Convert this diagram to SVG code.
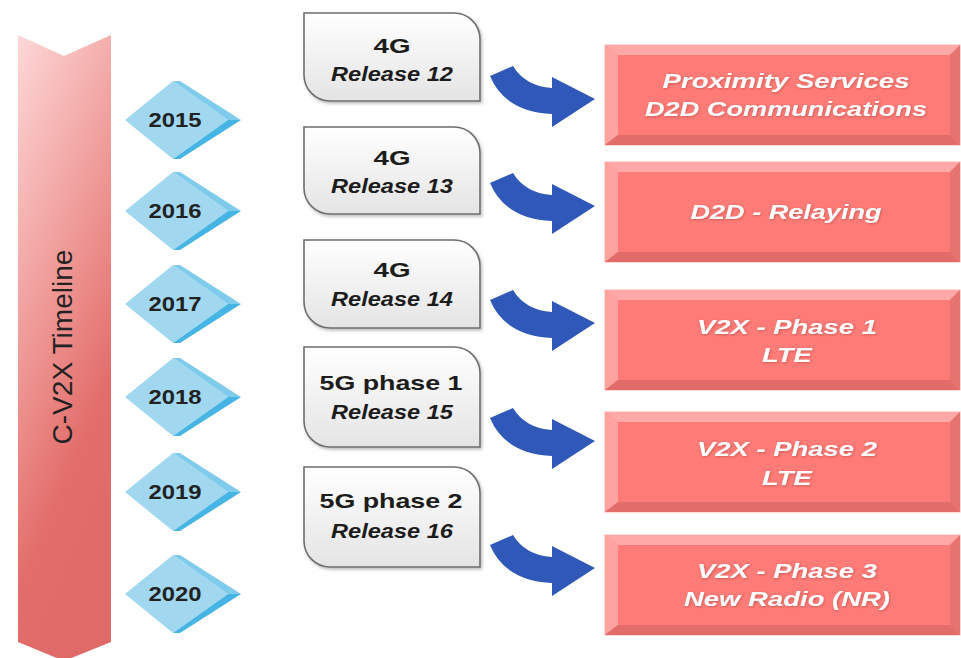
<svg xmlns="http://www.w3.org/2000/svg" width="961" height="658" viewBox="0 0 961 658">
  <defs>
    <linearGradient id="bannerFill" x1="0" y1="0" x2="0.35" y2="1">
      <stop offset="0" stop-color="#fdd8d8"/>
      <stop offset="0.55" stop-color="#ec8f8c"/>
      <stop offset="0.8" stop-color="#e26d6a"/>
      <stop offset="1" stop-color="#e06a67"/>
    </linearGradient>
    <linearGradient id="boxFill" x1="0" y1="0" x2="0" y2="1">
      <stop offset="0" stop-color="#ffffff"/>
      <stop offset="1" stop-color="#e4e4e4"/>
    </linearGradient>
    <filter id="softShadow" x="-10%" y="-10%" width="125%" height="130%">
      <feDropShadow dx="1.5" dy="2" stdDeviation="1.5" flood-color="#000" flood-opacity="0.25"/>
    </filter>
    <filter id="textShadow" x="-5%" y="-20%" width="110%" height="150%">
      <feDropShadow dx="0.8" dy="0.8" stdDeviation="0.8" flood-color="#8a2a28" flood-opacity="0.45"/>
    </filter>
    <!-- beveled release panel, 355 x 100 -->
    <g id="bevelPanel">
      <rect x="0" y="0" width="355" height="100" fill="#ff7b77" stroke="#ffb3b1" stroke-width="1"/>
      <polygon points="0,0 355,0 345,10 13,10" fill="#ffaaa8"/>
      <polygon points="0,0 13,10 13,90 0,100" fill="#ffa3a1"/>
      <polygon points="0,100 13,90 345,90 355,100" fill="#e16c6a"/>
      <polygon points="355,0 355,100 345,90 345,10" fill="#e57370"/>
    </g>
    <!-- year gem: front face plus two side facets, centred on y=0 -->
    <g id="gem">
      <polygon points="125,0 173,-39 228,0 173,39" fill="#a1d8ef"/>
      <polygon points="173,-39 180,-39 241,0 228,0" fill="#7fcbec"/>
      <polygon points="228,0 241,0 180,39 173,39" fill="#47b5e3"/>
    </g>
    <!-- curved blue arrow, tip at (0,0) -->
    <path id="bendArrow" d="M-105,-23 L-82,-33 Q-70,-13 -43,-11 L-43,-22 L0,0 L-43,28 L-43,15 Q-90,13 -105,-23 Z" fill="#2f58b8"/>
  </defs>

  <style>
    .year { font-family: "Liberation Sans", Arial, sans-serif; font-weight: bold; font-size: 20px; fill: #222; text-anchor: middle; }
    .gen { font-family: "Liberation Sans", Arial, sans-serif; font-weight: bold; font-size: 21px; fill: #1c1c1c; text-anchor: middle; }
    .rel { font-family: "Liberation Sans", Arial, sans-serif; font-weight: bold; font-style: italic; font-size: 21px; fill: #1c1c1c; text-anchor: middle; }
    .feat { font-family: "Liberation Sans", Arial, sans-serif; font-weight: bold; font-style: italic; font-size: 21px; fill: #ffffff; text-anchor: middle; }
    .title { font-family: "Liberation Sans", Arial, sans-serif; font-size: 27px; fill: #222; text-anchor: middle; }
    .relbox { fill: url(#boxFill); stroke: #6e6e6e; stroke-width: 1.6; }
  </style>

  <rect width="961" height="658" fill="#ffffff"/>

  <!-- timeline banner -->
  <g id="timeline">
    <polygon points="18,35 64,56 111,35 111,642 64,661 18,642" fill="url(#bannerFill)"/>
    <text class="title" transform="translate(72,347) rotate(-90)" x="0" y="0" textLength="195" lengthAdjust="spacingAndGlyphs">C-V2X Timeline</text>
  </g>

  <!-- years -->
  <g id="year-2015"><use href="#gem" y="120"/><text class="year" x="175" y="127" textLength="53" lengthAdjust="spacingAndGlyphs">2015</text></g>
  <g id="year-2016"><use href="#gem" y="211"/><text class="year" x="175" y="218" textLength="53" lengthAdjust="spacingAndGlyphs">2016</text></g>
  <g id="year-2017"><use href="#gem" y="304"/><text class="year" x="175" y="311" textLength="53" lengthAdjust="spacingAndGlyphs">2017</text></g>
  <g id="year-2018"><use href="#gem" y="397"/><text class="year" x="175" y="404" textLength="53" lengthAdjust="spacingAndGlyphs">2018</text></g>
  <g id="year-2019"><use href="#gem" y="492"/><text class="year" x="175" y="499" textLength="53" lengthAdjust="spacingAndGlyphs">2019</text></g>
  <g id="year-2020"><use href="#gem" y="594"/><text class="year" x="175" y="601" textLength="53" lengthAdjust="spacingAndGlyphs">2020</text></g>

  <!-- 3GPP releases -->
  <g id="rel-12">
    <path class="relbox" filter="url(#softShadow)" d="M304,13 H454 A26,26 0 0 1 480,39 V101 H330 A26,26 0 0 1 304,75 Z"/>
    <text class="gen" x="392" y="53" textLength="37" lengthAdjust="spacingAndGlyphs">4G</text>
    <text class="rel" x="392" y="81" textLength="122" lengthAdjust="spacingAndGlyphs">Release 12</text>
  </g>
  <g id="rel-13">
    <path class="relbox" filter="url(#softShadow)" d="M304,127 H454 A26,26 0 0 1 480,153 V214 H330 A26,26 0 0 1 304,188 Z"/>
    <text class="gen" x="392" y="165" textLength="37" lengthAdjust="spacingAndGlyphs">4G</text>
    <text class="rel" x="392" y="193" textLength="122" lengthAdjust="spacingAndGlyphs">Release 13</text>
  </g>
  <g id="rel-14">
    <path class="relbox" filter="url(#softShadow)" d="M304,240 H454 A26,26 0 0 1 480,266 V328 H330 A26,26 0 0 1 304,302 Z"/>
    <text class="gen" x="392" y="277" textLength="37" lengthAdjust="spacingAndGlyphs">4G</text>
    <text class="rel" x="392" y="306" textLength="122" lengthAdjust="spacingAndGlyphs">Release 14</text>
  </g>
  <g id="rel-15">
    <path class="relbox" filter="url(#softShadow)" d="M304,347 H454 A26,26 0 0 1 480,373 V447 H330 A26,26 0 0 1 304,421 Z"/>
    <text class="gen" x="391" y="390" textLength="143" lengthAdjust="spacingAndGlyphs">5G phase 1</text>
    <text class="rel" x="392" y="419" textLength="122" lengthAdjust="spacingAndGlyphs">Release 15</text>
  </g>
  <g id="rel-16">
    <path class="relbox" filter="url(#softShadow)" d="M304,467 H454 A26,26 0 0 1 480,493 V567 H330 A26,26 0 0 1 304,541 Z"/>
    <text class="gen" x="391" y="508" textLength="143" lengthAdjust="spacingAndGlyphs">5G phase 2</text>
    <text class="rel" x="392" y="538" textLength="122" lengthAdjust="spacingAndGlyphs">Release 16</text>
  </g>

  <!-- features -->
  <g id="feat-prose">
    <use href="#bevelPanel" x="605" y="45"/>
    <text class="feat" filter="url(#textShadow)" x="786" y="88" textLength="247" lengthAdjust="spacingAndGlyphs">Proximity Services</text>
    <text class="feat" filter="url(#textShadow)" x="786" y="116" textLength="282" lengthAdjust="spacingAndGlyphs">D2D Communications</text>
  </g>
  <g id="feat-relay">
    <use href="#bevelPanel" x="605" y="162"/>
    <text class="feat" filter="url(#textShadow)" x="786" y="219" textLength="191" lengthAdjust="spacingAndGlyphs">D2D - Relaying</text>
  </g>
  <g id="feat-v2x-1">
    <use href="#bevelPanel" x="605" y="290"/>
    <text class="feat" filter="url(#textShadow)" x="787" y="334" textLength="180" lengthAdjust="spacingAndGlyphs">V2X - Phase 1</text>
    <text class="feat" filter="url(#textShadow)" x="787" y="362" textLength="50" lengthAdjust="spacingAndGlyphs">LTE</text>
  </g>
  <g id="feat-v2x-2">
    <use href="#bevelPanel" x="605" y="412"/>
    <text class="feat" filter="url(#textShadow)" x="787" y="456" textLength="180" lengthAdjust="spacingAndGlyphs">V2X - Phase 2</text>
    <text class="feat" filter="url(#textShadow)" x="787" y="485" textLength="50" lengthAdjust="spacingAndGlyphs">LTE</text>
  </g>
  <g id="feat-v2x-3">
    <use href="#bevelPanel" x="605" y="535"/>
    <text class="feat" filter="url(#textShadow)" x="787" y="578" textLength="180" lengthAdjust="spacingAndGlyphs">V2X - Phase 3</text>
    <text class="feat" filter="url(#textShadow)" x="787" y="606" textLength="206" lengthAdjust="spacingAndGlyphs">New Radio (NR)</text>
  </g>

  <!-- connectors -->
  <g id="connectors">
    <use href="#bendArrow" x="595" y="99"/>
    <use href="#bendArrow" x="595" y="206"/>
    <use href="#bendArrow" x="595" y="323"/>
    <use href="#bendArrow" x="595" y="441"/>
    <use href="#bendArrow" x="595" y="568"/>
  </g>
</svg>
